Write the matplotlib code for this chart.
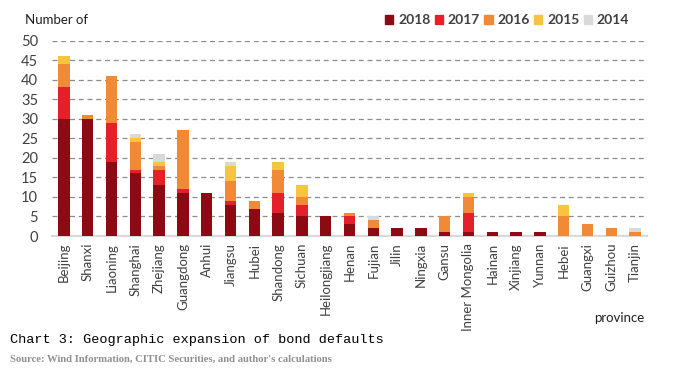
import matplotlib.pyplot as plt
from matplotlib.patches import Patch

provinces = ['Beijing', 'Shanxi', 'Liaoning', 'Shanghai', 'Zhejiang', 'Guangdong', 'Anhui',
             'Jiangsu', 'Hubei', 'Shandong', 'Sichuan', 'Heilongjiang', 'Henan', 'Fujian',
             'Jilin', 'Ningxia', 'Gansu', 'Inner Mongolia', 'Hainan', 'Xinjiang', 'Yunnan',
             'Hebei', 'Guangxi', 'Guizhou', 'Tianjin']
years = ['2018', '2017', '2016', '2015', '2014']
y2018 = [30, 30, 19, 16, 13, 11, 11, 8, 7, 6, 5, 5, 3, 2, 2, 2, 1, 1, 1, 1, 1, 0, 0, 0, 0]
y2017 = [8, 0, 10, 1, 4, 1, 0, 1, 0, 5, 3, 0, 2, 0, 0, 0, 0, 5, 0, 0, 0, 0, 0, 0, 0]
y2016 = [6, 1, 12, 7, 1, 15, 0, 5, 2, 6, 2, 0, 1, 2, 0, 0, 4, 4, 0, 0, 0, 5, 3, 2, 1]
y2015 = [2, 0, 0, 1, 1, 0, 0, 4, 0, 2, 3, 0, 0, 0, 0, 0, 0, 1, 0, 0, 0, 3, 0, 0, 0]
y2014 = [0, 0, 0, 1, 2, 0, 0, 1, 0, 0, 0, 0, 0, 1, 0, 0, 0, 0, 0, 0, 0, 0, 0, 0, 1]
colors = ['#8B0A14', '#E5202A', '#F08A36', '#F7C440', '#D9D9D9']

plt.rcParams['font.family'] = ['Lato', 'DejaVu Sans']

fig = plt.figure(figsize=(6.74, 3.78), dpi=100)
ax = fig.add_axes([52 / 674, 1 - 236 / 378, 595 / 674, 195.5 / 378])

x = range(len(provinces))
bottom = [0] * len(provinces)
for vals, c in zip([y2018, y2017, y2016, y2015, y2014], colors):
    ax.bar(x, vals, 0.48, bottom=bottom, color=c, zorder=3)
    bottom = [b + v for b, v in zip(bottom, vals)]

ax.set_xlim(-0.5, len(provinces) - 0.5)
ax.set_ylim(0, 50)
ax.set_yticks(range(0, 51, 5))
ax.yaxis.grid(True, linestyle=(0, (4, 3)), color='#8C8C8C', lw=0.9, zorder=0)
ax.set_xticks(list(x))
ax.set_xticklabels(provinces, rotation=90, fontsize=9.5, color='#404040')
ax.tick_params(axis='y', length=0, labelsize=10.5, labelcolor='#404040', pad=10)
ax.tick_params(axis='x', length=0, pad=5)
for s in ['top', 'right', 'left']:
    ax.spines[s].set_visible(False)
ax.spines['bottom'].set_color('#D9D9D9')
ax.spines['bottom'].set_linewidth(1.5)

fig.text(25 / 674, 1 - 20 / 378, 'Number of', fontsize=9.5, color='#202020', va='center')
handles = [Patch(color=c) for c in colors]
fig.legend(handles, years, loc='center left', bbox_to_anchor=(378 / 674, 1 - 20 / 378), ncol=5,
           frameon=False, borderpad=0, handlelength=0.6, handleheight=0.6, handletextpad=0.35,
           columnspacing=0.3, prop={'size': 10, 'weight': 'bold'}, labelcolor='#404040')

fig.text(594 / 674, 1 - 318 / 378, 'province', fontsize=9.5, color='#202020', va='center')
fig.text(10 / 674, 1 - 340 / 378, 'Chart 3: Geographic expansion of bond defaults',
         family='Liberation Mono', fontsize=9.7, va='center')
fig.text(10 / 674, 1 - 359 / 378, "Source: Wind Information, CITIC Securities, and author's calculations",
         family='Liberation Serif', fontsize=7.7, weight='bold', color='#909090', va='center')

fig.savefig('out.png', dpi=100)
